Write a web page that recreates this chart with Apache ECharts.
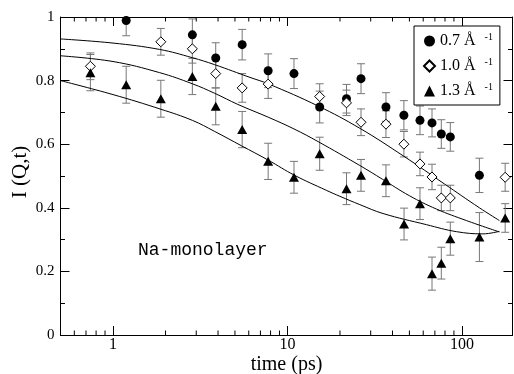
<!DOCTYPE html>
<html>
<head>
<meta charset="utf-8">
<script src="https://cdn.jsdelivr.net/npm/echarts@6/dist/echarts.min.js"></script>
<style>
  html, body { margin: 0; padding: 0; background: #fff; }
  #chart { width: 514px; height: 374px; }
</style>
</head>
<body>
<div id="chart"></div>
<script>
// measured points: [time (ps), I(Q,t), error]
const q07 = [
  [1.19, 0.989, 0.048], [2.85, 0.944, 0.05], [3.88, 0.871, 0.048], [5.5, 0.913, 0.048],
  [7.75, 0.831, 0.053], [10.9, 0.822, 0.047], [15.3, 0.717, 0.05], [21.8, 0.743, 0.045],
  [26.4, 0.806, 0.047], [36.7, 0.717, 0.045], [46.5, 0.691, 0.046], [57.5, 0.675, 0.045],
  [67.4, 0.667, 0.044], [76.2, 0.632, 0.045], [85.8, 0.623, 0.045], [126, 0.502, 0.054]
];
const q10 = [
  [0.742, 0.845, 0.042], [1.88, 0.922, 0.042], [2.85, 0.9, 0.045], [3.88, 0.822, 0.045],
  [5.5, 0.777, 0.045], [7.75, 0.789, 0.045], [15.3, 0.75, 0.04], [21.8, 0.73, 0.04],
  [26.4, 0.669, 0.042], [36.7, 0.663, 0.042], [46.5, 0.6, 0.04], [57.5, 0.538, 0.037],
  [67.4, 0.497, 0.04], [76.2, 0.431, 0.04], [85.8, 0.431, 0.04], [177, 0.496, 0.044]
];
const q13 = [
  [0.742, 0.825, 0.057], [1.19, 0.787, 0.058], [1.88, 0.743, 0.058], [2.85, 0.813, 0.057],
  [3.88, 0.719, 0.058], [5.5, 0.646, 0.057], [7.75, 0.546, 0.057], [10.9, 0.496, 0.05],
  [15.3, 0.57, 0.052], [21.8, 0.46, 0.05], [26.4, 0.502, 0.05], [36.7, 0.485, 0.05],
  [46.6, 0.349, 0.05], [57.5, 0.413, 0.05], [67.4, 0.193, 0.052], [76.2, 0.226, 0.05],
  [85.8, 0.303, 0.052], [126, 0.308, 0.077], [177, 0.368, 0.045]
];

// fit curves
const fit07 = [
  [0.5, 0.931], [1, 0.918], [1.85, 0.898], [2.85, 0.872], [3.83, 0.85], [6.1, 0.81],
  [7.75, 0.79], [15, 0.72], [26, 0.65], [46.5, 0.562], [79.4, 0.475], [126, 0.4],
  [164, 0.36]
];
const fit10 = [
  [0.5, 0.878], [1, 0.86], [1.85, 0.825], [2.85, 0.79], [3.83, 0.76], [5.2, 0.725],
  [7.75, 0.685], [10.9, 0.648], [15, 0.608], [26, 0.533], [35, 0.49], [50, 0.438],
  [71.5, 0.396], [106, 0.36], [164, 0.324]
];
const fit13 = [
  [0.5, 0.8], [1, 0.756], [1.88, 0.71], [2.85, 0.675], [3.83, 0.64], [5.45, 0.595],
  [7.75, 0.55], [11, 0.502], [16.7, 0.455], [20, 0.436], [26, 0.41], [35.3, 0.382],
  [62.6, 0.347], [93, 0.325], [132, 0.318], [164, 0.326]
];

const seriesNames = ['0.7 Å', '1.0 Å', '1.3 Å'];
const xMajorLabels = [1, 10, 100];
const xMinorTicks = [0.6, 0.7, 0.8, 0.9, 2, 3, 4, 5, 6, 7, 8, 9, 20, 30, 40, 50, 60, 70, 80, 90];

const serif = 'Liberation Serif';
const black = { color: '#000', width: 1 };

const errorBarSeries = (data) => ({
  type: 'custom',
  data: data,
  encode: { x: 0, y: 1 },
  clip: true,
  z: 1,
  silent: true,
  renderItem: (params, api) => {
    const x = api.value(0), y = api.value(1), e = api.value(2);
    const hi = api.coord([x, y + e]);
    const lo = api.coord([x, y - e]);
    const w = 4;
    const st = { stroke: '#777', lineWidth: 1 };
    return {
      type: 'group',
      children: [
        { type: 'line', shape: { x1: hi[0], y1: hi[1], x2: lo[0], y2: lo[1] }, style: st },
        { type: 'line', shape: { x1: hi[0] - w, y1: hi[1], x2: hi[0] + w, y2: hi[1] }, style: st },
        { type: 'line', shape: { x1: lo[0] - w, y1: lo[1], x2: lo[0] + w, y2: lo[1] }, style: st }
      ]
    };
  }
});

const fitSeries = (data) => ({
  type: 'line',
  data: data,
  smooth: 0.4,
  showSymbol: false,
  silent: true,
  z: 3,
  lineStyle: { color: '#000', width: 1 }
});

const chart = echarts.init(document.getElementById('chart'), null, { renderer: 'canvas' });

chart.setOption({
  animation: false,
  backgroundColor: '#fff',
  title: {
    text: 'Na-monolayer',
    left: 133,
    top: 236,
    textStyle: { fontFamily: 'Liberation Mono', fontSize: 18, fontWeight: 'normal', color: '#000' }
  },
  grid: { left: 60.5, right: 1.5, top: 17, bottom: 39, containLabel: false, outerBoundsMode: 'none' },
  legend: {
    data: seriesNames,
    orient: 'vertical',
    left: 414,
    top: 26,
    padding: [6, 7, 6, 9],
    itemGap: 8,
    itemWidth: 11,
    itemHeight: 11,
    borderColor: '#000',
    borderWidth: 1,
    borderRadius: 0,
    backgroundColor: '#fff',
    formatter: (name) => `{n|${name}}{s|-1}`,
    textStyle: {
      color: '#000',
      rich: {
        n: { fontFamily: serif, fontSize: 16, color: '#000', lineHeight: 18 },
        s: { fontFamily: serif, fontSize: 10, color: '#000', verticalAlign: 'top', padding: [0, 0, 0, 9], lineHeight: 18 }
      }
    }
  },
  xAxis: [
    {
      type: 'log', logBase: 10, min: 0.5, max: 195,
      position: 'bottom',
      name: 'time (ps)', nameLocation: 'middle', nameGap: 20, nameMoveOverlap: false,
      nameTextStyle: { fontFamily: serif, fontSize: 20, color: '#000' },
      axisLine: { show: true, onZero: false, lineStyle: black },
      axisTick: { show: true, inside: true, length: 9, lineStyle: black },
      axisLabel: {
        margin: 2, fontFamily: serif, fontSize: 16, color: '#000',
        formatter: (v) => (xMajorLabels.some(m => Math.abs(m - v) < 1e-6) ? String(Math.round(v)) : '')
      },
      splitLine: { show: false }
    },
    {
      type: 'log', logBase: 10, min: 0.5, max: 195,
      position: 'top',
      axisLine: { show: true, onZero: false, lineStyle: black },
      axisTick: { show: true, inside: true, length: 9, lineStyle: black },
      axisLabel: { show: false },
      splitLine: { show: false }
    }
  ],
  yAxis: [
    {
      type: 'value', min: 0, max: 1, interval: 0.2,
      position: 'left',
      name: 'I (Q,t)', nameLocation: 'middle', nameGap: 30, nameRotate: 90, nameMoveOverlap: false,
      nameTextStyle: { fontFamily: serif, fontSize: 21, color: '#000', padding: [0, 0, 0, 8] },
      axisLine: { show: true, onZero: false, lineStyle: black },
      axisTick: { show: true, inside: true, length: 9, lineStyle: black },
      minorTick: { show: true, splitNumber: 2, length: 4.5, lineStyle: black },
      axisLabel: { margin: 6, fontFamily: serif, fontSize: 15, color: '#000' },
      splitLine: { show: false }
    },
    {
      type: 'value', min: 0, max: 1, interval: 0.2,
      position: 'right',
      axisLine: { show: true, onZero: false, lineStyle: black },
      axisTick: { show: true, inside: true, length: 9, lineStyle: black },
      minorTick: { show: true, splitNumber: 2, length: 4.5, lineStyle: black },
      axisLabel: { show: false },
      splitLine: { show: false }
    }
  ],
  series: [
    {
      // log-axis minor ticks at 2..9 of each decade, bottom and top
      type: 'custom',
      data: xMinorTicks.map(v => [v, 0]),
      encode: { x: 0, y: 1 },
      silent: true,
      z: 5,
      renderItem: (params, api) => {
        const v = api.value(0);
        const b = api.coord([v, 0]);
        const t = api.coord([v, 1]);
        const st = { stroke: '#000', lineWidth: 1 };
        return {
          type: 'group',
          children: [
            { type: 'line', shape: { x1: b[0], y1: b[1], x2: b[0], y2: b[1] - 4.5 }, style: st },
            { type: 'line', shape: { x1: t[0], y1: t[1], x2: t[0], y2: t[1] + 4.5 }, style: st }
          ]
        };
      }
    },
    errorBarSeries(q07),
    errorBarSeries(q10),
    errorBarSeries(q13),
    fitSeries(fit07),
    fitSeries(fit10),
    fitSeries(fit13),
    {
      name: seriesNames[0], type: 'scatter', z: 4,
      data: q07.map(d => [d[0], d[1]]),
      symbol: 'circle', symbolSize: 9,
      itemStyle: { color: '#000', opacity: 1 }
    },
    {
      name: seriesNames[1], type: 'scatter', z: 4,
      data: q10.map(d => [d[0], d[1]]),
      symbol: 'diamond', symbolSize: 10,
      itemStyle: { color: '#fff', borderColor: '#000', borderWidth: 1, opacity: 1 }
    },
    {
      name: seriesNames[2], type: 'scatter', z: 4,
      data: q13.map(d => [d[0], d[1]]),
      symbol: 'triangle', symbolSize: [10, 9],
      itemStyle: { color: '#000', opacity: 1 }
    }
  ]
});
</script>
</body>
</html>
